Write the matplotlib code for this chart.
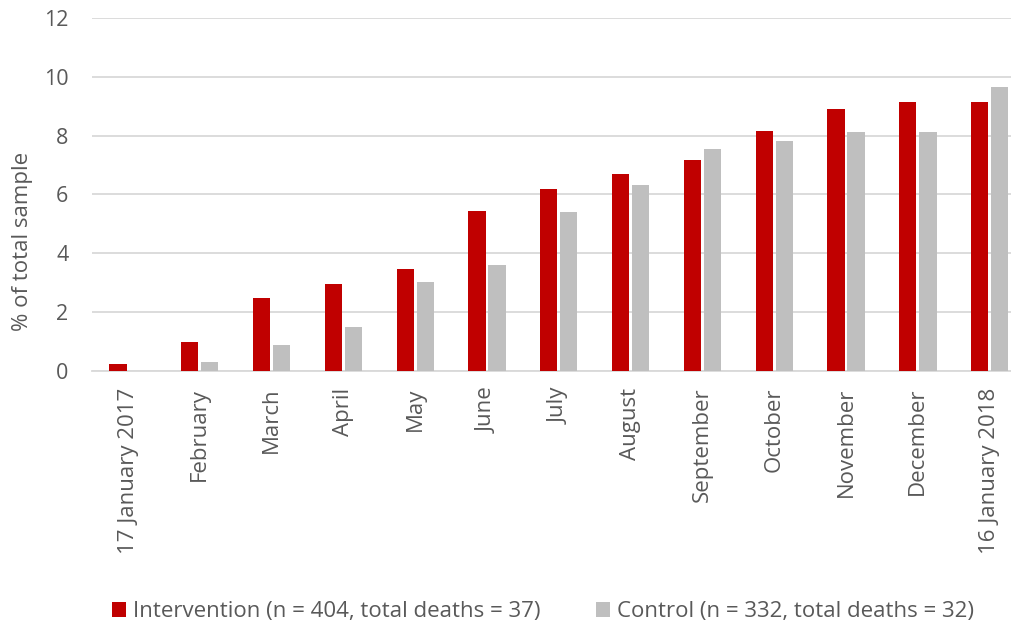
import numpy as np
import matplotlib.pyplot as plt

plt.rcParams['font.family'] = ['Open Sans', 'DejaVu Sans']

# Data
months = ["17 January 2017", "February", "March", "April", "May", "June",
          "July", "August", "September", "October", "November", "December",
          "16 January 2018"]
intervention = [0.25, 0.99, 2.48, 2.97, 3.47, 5.45, 6.19, 6.68, 7.18, 8.17, 8.91, 9.16, 9.16]
control = [0.0, 0.30, 0.90, 1.51, 3.01, 3.61, 5.42, 6.33, 7.53, 7.83, 8.13, 8.13, 9.64]

label_int = "Intervention (n = 404, total deaths = 37)"
label_ctl = "Control (n = 332, total deaths = 32)"

text_col = "#595959"
grid_col = "#D9D9D9"

fig = plt.figure(figsize=(10.11, 6.22), dpi=100)
# plot area runs a little past the right edge, as in the original
ax = fig.add_axes([0.0911, 0.4035, 0.9233, 0.5676])

x = np.arange(len(months))
w = 0.24
ax.bar(x - 0.14, intervention, w, color="#C00000", label=label_int, zorder=3)
ax.bar(x + 0.14, control, w, color="#BFBFBF", label=label_ctl, zorder=3)

ax.set_xlim(-0.5, len(months) - 0.5)
ax.set_ylim(0, 12)
ax.set_yticks(range(0, 13, 2))
ax.yaxis.grid(True, color=grid_col, linewidth=1.3, zorder=0)
ax.set_xticks(x)
ax.set_xticklabels(months, rotation=90, fontsize=16, color=text_col)
ax.tick_params(axis="y", labelsize=15.5, labelcolor=text_col, length=0, pad=17)
ax.tick_params(axis="x", length=0, pad=12)
for s in ["top", "right", "left"]:
    ax.spines[s].set_visible(False)
ax.spines["bottom"].set_color(grid_col)
ax.spines["bottom"].set_linewidth(1.3)

ax.set_ylabel("% of total sample", fontsize=16, color=text_col)
ax.yaxis.set_label_coords(-0.063, 0.368)

fig.legend(loc="center", bbox_to_anchor=(0.537, 0.017), ncol=2, frameon=False,
           fontsize=16, labelcolor=text_col, handlelength=0.65, handleheight=0.65,
           handletextpad=0.3, columnspacing=2.5)

fig.savefig("out.png", dpi=100)
